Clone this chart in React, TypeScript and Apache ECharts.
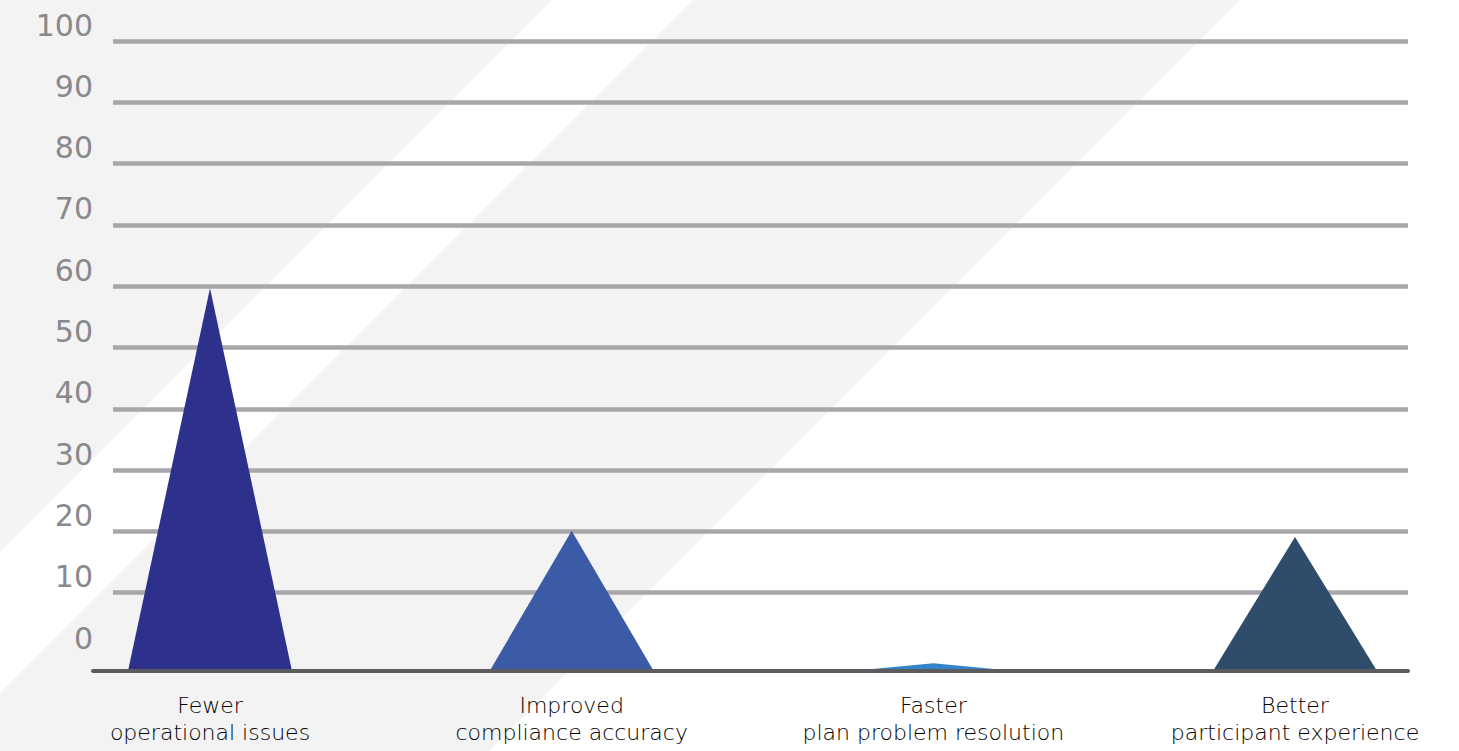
import React, { useEffect, useRef } from "react";
import * as echarts from "echarts";

// Survey outcomes, drawn as triangles rising from the baseline
const categories = [
  "Fewer\noperational issues",
  "Improved\ncompliance accuracy",
  "Faster\nplan problem resolution",
  "Better\nparticipant experience",
];
const outcomeValues = [60, 22, 1.2, 21];
const triangleColors = ["#2d318b", "#3b5ba7", "#3384c8", "#2f4c6a"];

// Scale shown on the left
const scaleMin = 0;
const scaleMax = 100;
const scaleStep = 10;

const W = 1459;
const H = 751;

export default function App() {
  const ref = useRef<HTMLDivElement>(null);

  useEffect(() => {
    if (!ref.current) return;
    const chart = echarts.init(ref.current, null, { renderer: "svg" });

    const tickCount = (scaleMax - scaleMin) / scaleStep + 1;
    const splitColors = Array.from({ length: tickCount }, (_, i) =>
      i === 0 ? "rgba(0,0,0,0)" : "#a7a7ab"
    );

    const option: echarts.EChartsOption = {
      animation: false,
      backgroundColor: "#ffffff",
      graphic: [
        {
          type: "polygon",
          z: -100,
          silent: true,
          shape: { points: [[0, 0], [552, 0], [0, 552]] },
          style: { fill: "#f3f3f3" },
        },
        {
          type: "polygon",
          z: -100,
          silent: true,
          shape: { points: [[693, 0], [1240, 0], [0, 1240], [0, 693]] },
          style: { fill: "#f3f3f3" },
        },
      ],
      grid: [
        { left: 113, right: 51, top: 41, bottom: 97 },
        { left: 210, right: 164, top: 33, bottom: 80 },
        { left: 93, right: 51, top: 33, bottom: 80 },
      ],
      xAxis: [
        { gridIndex: 0, type: "value", show: false },
        {
          gridIndex: 1,
          type: "category",
          data: categories,
          boundaryGap: false,
          axisLine: { show: false },
          axisTick: { show: false },
          splitLine: { show: false },
          axisLabel: {
            interval: 0,
            margin: 21,
            fontSize: 22,
            lineHeight: 27,
            color: "#000000",
            fontFamily: "DejaVu Sans",
            fontWeight: 300,
          },
        },
        {
          gridIndex: 2,
          type: "value",
          min: 0,
          max: 1,
          z: 10,
          axisLine: { show: true, lineStyle: { color: "#5c5c5e", width: 4 } },
          axisTick: { show: false },
          axisLabel: { show: false },
          splitLine: { show: false },
        },
      ],
      yAxis: [
        {
          gridIndex: 0,
          type: "value",
          min: scaleMin,
          max: scaleMax,
          interval: scaleStep,
          axisLine: { show: false },
          axisTick: { show: false },
          axisLabel: {
            margin: 20,
            fontSize: 30,
            color: "#89898c",
            fontFamily: "DejaVu Sans",
            verticalAlign: "bottom",
            lineHeight: 32,
          },
          splitLine: {
            show: true,
            lineStyle: { color: splitColors, width: 4.5 },
          },
        },
        { gridIndex: 1, type: "value", min: scaleMin, max: scaleMax, show: false },
        { gridIndex: 2, type: "value", min: 0, max: 1, show: false },
      ],
      series: [
        {
          type: "custom",
          xAxisIndex: 1,
          yAxisIndex: 1,
          z: 3,
          data: outcomeValues.map((v, i) => [i, v]),
          renderItem: (params: any, api: any) => {
            const base = api.coord([api.value(0), 0]);
            const apex = api.coord([api.value(0), api.value(1)]);
            const half = 82;
            return {
              type: "polygon",
              shape: {
                points: [
                  [base[0] - half, base[1]],
                  [apex[0], apex[1]],
                  [base[0] + half, base[1]],
                ],
              },
              style: { fill: triangleColors[params.dataIndex] },
            };
          },
        },
      ],
    };

    chart.setOption(option);
    return () => chart.dispose();
  }, []);

  return (
    <div
      ref={ref}
      style={{ position: "fixed", left: 0, top: 0, width: W, height: H }}
    />
  );
}
